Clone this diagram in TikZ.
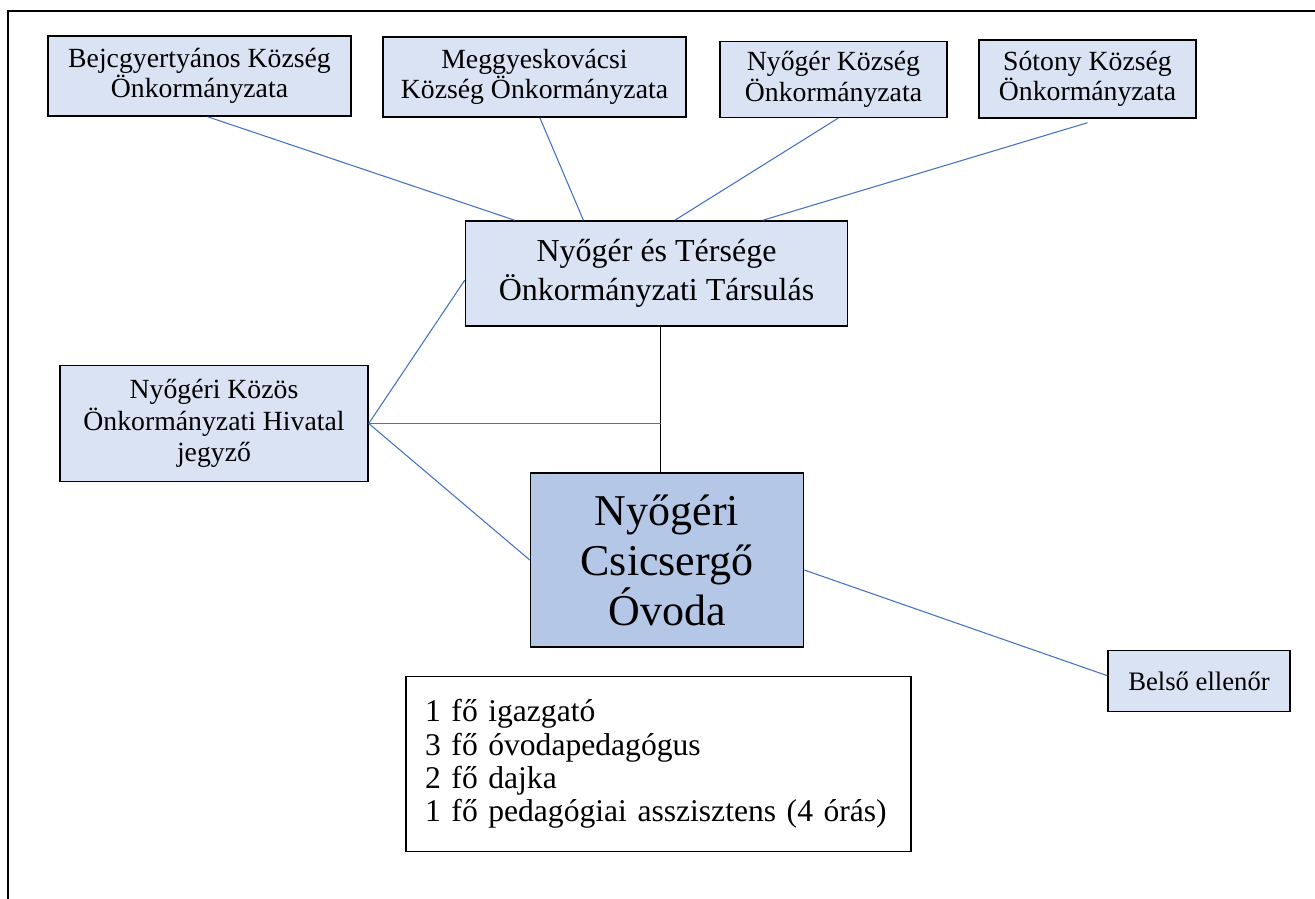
\documentclass[tikz,border=0pt]{standalone}
\usepackage{fontspec}
\setmainfont{Liberation Serif}
\usepackage{tikz}
\definecolor{cellfill}{HTML}{DAE3F3}
\definecolor{mainfill}{HTML}{B4C7E7}
\definecolor{linkblue}{HTML}{4472C4}
\tikzstyle{ocell} = [rectangle, draw, line width=1.1pt, fill=cellfill, align=center, inner sep=0pt, font=\fontsize{20.8}{23}\selectfont]
\tikzstyle{mcell} = [rectangle, draw, line width=1.1pt, fill=mainfill, align=center, inner sep=0pt, font=\fontsize{33}{37.5}\selectfont]
\tikzstyle{scell} = [rectangle, draw, line width=0.9pt, fill=white, align=left, inner sep=0pt, font=\fontsize{23.7}{25}\selectfont]
\tikzstyle{link} = [draw, linkblue, line width=0.8pt]
\tikzstyle{blink} = [draw, black, line width=0.9pt]

\begin{document}
\begin{tikzpicture}[x=0.75pt, y=-0.75pt]
    \useasboundingbox (0,0) rectangle (1315,899);
    \draw[line width=1.5pt] (1315,11) -- (8,11) -- (8,899);

    \node[ocell, minimum width=227.25pt, minimum height=60pt] (bejc) at (199.5,76) {Bejcgyertyános Község\\Önkormányzata};
    \node[ocell, minimum width=227.25pt, minimum height=60pt] (megy) at (534.5,77) {Meggyeskovácsi\\Község Önkormányzata};
    \node[ocell, minimum width=170.25pt, minimum height=57pt] (nyoger) at (833.5,79.5) {Nyőgér Község\\Önkormányzata};
    \node[ocell, minimum width=162.75pt, minimum height=58.5pt] (sotony) at (1087.5,79) {Sótony Község\\Önkormányzata};

    \node[ocell, minimum width=286.5pt, minimum height=78.75pt, font=\fontsize{24}{28.8}\selectfont] (tarsulas) at (656.5,273.5) {Nyőgér és Térsége\\Önkormányzati Társulás};
    \node[ocell, minimum width=231pt, minimum height=87pt, font=\fontsize{20.8}{23.6}\selectfont] (hivatal) at (214,423.5) {Nyőgéri Közös\\Önkormányzati Hivatal\\jegyző};
    \node[mcell, minimum width=204.75pt, minimum height=130.5pt] (ovoda) at (667,560) {Nyőgéri\\Csicsergő\\Óvoda};
    \node[ocell, minimum width=136.5pt, minimum height=45.75pt, font=\fontsize{20}{23}\selectfont] (belso) at (1199,681) {Belső ellenőr};
    \node[scell, minimum width=378.75pt, minimum height=131.25pt, text width=350pt] (staff) at (658.5,764) {1 fő igazgató\\3 fő óvodapedagógus\\2 fő dajka\\1 fő pedagógiai asszisztens (4 órás)};

    \coordinate (top) at ([xshift=3pt]tarsulas.south);
    \coordinate (mid) at (top |- hivatal.east);

    \path[link] ([xshift=6pt]bejc.south) -- ([xshift=37.5pt]tarsulas.north west);
    \path[link] ([xshift=4pt]megy.south) -- ([xshift=89pt]tarsulas.north west);
    \path[link] ([xshift=3.4pt]nyoger.south) -- ([xshift=157.5pt]tarsulas.north west);
    \path[link] ([yshift=-3pt]sotony.south) -- ([xshift=223.5pt]tarsulas.north west);

    \path[blink] (top) -- (top |- ovoda.north);
    \path[link] ([yshift=-5pt]tarsulas.west) -- (hivatal.east);
    \path[link] (hivatal.east) -- (mid);
    \path[link] (hivatal.east) -- (ovoda.west);
    \path[link] ([yshift=-7.5pt]ovoda.east) -- ([yshift=4pt]belso.west);
\end{tikzpicture}
\end{document}
